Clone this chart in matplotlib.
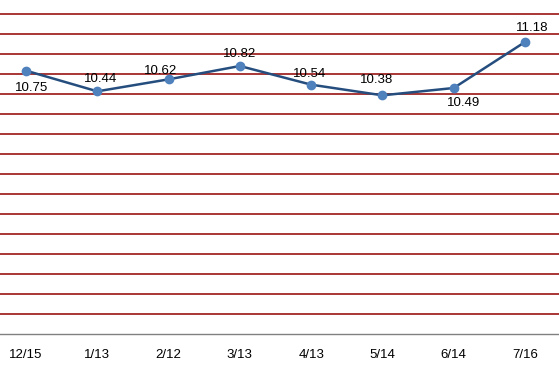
import numpy as np
import matplotlib
matplotlib.use('Agg')
import matplotlib.pyplot as plt

# data
dates = ['12/15', '1/13', '2/12', '3/13', '4/13', '5/14', '6/14', '7/16']
values = [10.75, 10.44, 10.62, 10.82, 10.54, 10.38, 10.49, 11.18]
# where each data label sits relative to its point (pixels)
label_offsets = [(6, -17), (3, 12), (-8, 8), (0, 12), (-2, 11), (-6, 15), (10, -15), (7, 14)]

plt.rcParams['font.family'] = ['Liberation Sans', 'DejaVu Sans']

fig = plt.figure(figsize=(5.59, 3.68), dpi=100)
ax = fig.add_axes([0, 34 / 368, 1, 334 / 368])

x = np.arange(len(dates))
ax.plot(x, values, color='#254e7f', linewidth=1.8, zorder=3)
ax.plot(x, values, 'o', color='#4f81bd', markersize=6, zorder=4)

for xi, v, off in zip(x, values, label_offsets):
    ax.annotate('%.2f' % v, (xi, v), xytext=off, textcoords='offset pixels',
                ha='center', va='center', fontsize=9.5, color='black', zorder=5)

ax.set_xlim(-0.365, 7.477)
ax.set_ylim(6.8, 11.81)
ax.set_yticks(np.arange(7.1, 11.65, 0.3))
ax.yaxis.grid(True, color='#900000', linewidth=1.1)
ax.set_axisbelow(True)
ax.set_yticklabels([])
ax.tick_params(axis='y', length=0)

ax.set_xticks(x)
ax.set_xticklabels(dates, fontsize=9.5)
ax.tick_params(axis='x', length=0, pad=11)

for s in ['top', 'left', 'right']:
    ax.spines[s].set_visible(False)
ax.spines['bottom'].set_color('#808080')
ax.spines['bottom'].set_linewidth(1)

fig.savefig('out.png', dpi=100)
